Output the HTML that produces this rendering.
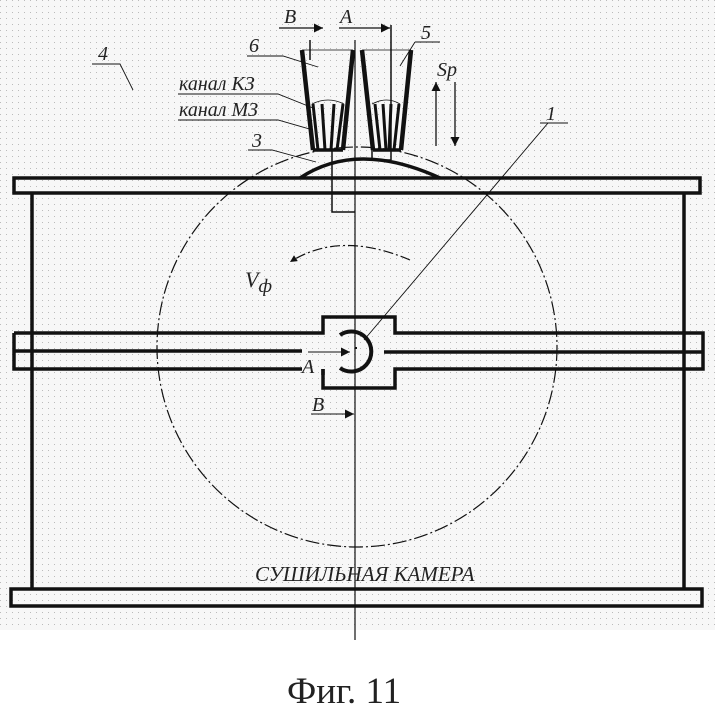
<!DOCTYPE html>
<html><head><meta charset="utf-8"><style>
html,body{margin:0;padding:0;background:#fff;width:715px;height:711px;overflow:hidden}
svg{display:block}
text{font-family:"Liberation Serif",serif;font-style:italic;fill:#222}
</style></head><body>
<svg width="715" height="711" viewBox="0 0 715 711" xmlns="http://www.w3.org/2000/svg">
<defs>
<pattern id="dots" width="6" height="6" patternUnits="userSpaceOnUse"><rect width="1" height="1" fill="#bbb"/></pattern>
<marker id="ar" viewBox="0 0 10 10" refX="10" refY="5" markerWidth="10" markerHeight="7" orient="auto" markerUnits="userSpaceOnUse"><path d="M0,0L10,5L0,10z" fill="#111"/></marker>
<marker id="ar2" viewBox="0 0 10 10" refX="10" refY="5" markerWidth="16" markerHeight="9" orient="auto" markerUnits="userSpaceOnUse"><path d="M0,0L10,5L0,10z" fill="#111"/></marker>
</defs>
<rect x="0" y="0" width="715" height="630" fill="#f7f7f7"/>
<rect x="0" y="0" width="715" height="630" fill="url(#dots)"/>
<g stroke="#111" fill="none">
<circle cx="357" cy="347" r="200" stroke-width="1.2" stroke-dasharray="14,3,2,3"/>
<line x1="32" y1="193" x2="32" y2="590" stroke-width="3.5"/>
<line x1="684" y1="193" x2="684" y2="590" stroke-width="3.5"/>
<rect x="14" y="178" width="686" height="15" stroke-width="3.5"/>
<rect x="11" y="589" width="691" height="17" stroke-width="3.5"/>
<path d="M14,333 H323 V317 H395 V333 H703 V369 H395 V388 H323 V369" stroke-width="3.5"/>
<path d="M14,333 V369 H302" stroke-width="3.5"/>
<line x1="14" y1="351" x2="302" y2="351" stroke-width="3.5"/>
<line x1="384" y1="352" x2="703" y2="352" stroke-width="3.5"/>
<line x1="323" y1="369" x2="323" y2="375" stroke-width="3.5"/>
<path d="M340,335 A20,20 0 1 1 340,368" stroke-width="4"/>
<path d="M300,178 Q357,140 440,178" stroke-width="3.5"/>
<line x1="355" y1="40" x2="355" y2="640" stroke-width="1.2"/>
<line x1="310" y1="40" x2="310" y2="60" stroke-width="1.5"/>
<line x1="391" y1="25" x2="391" y2="160" stroke-width="1.5"/>
<path d="M332,150 V212 H355" stroke-width="1.5"/>
<path d="M372,150 V160 H391" stroke-width="1.5"/>
<line x1="279" y1="28" x2="323" y2="28" stroke-width="1.2" marker-end="url(#ar2)"/>
<line x1="339" y1="28" x2="390" y2="28" stroke-width="1.2" marker-end="url(#ar2)"/>
<path d="M302,50 L313,150 M353,50 L343,150" stroke-width="4.5"/>
<path d="M362,50 L373,150 M411,50 L401,150" stroke-width="4.5"/>
<line x1="302" y1="50" x2="353" y2="50" stroke-width="0.8"/>
<line x1="362" y1="50" x2="411" y2="50" stroke-width="0.8"/>
<line x1="313" y1="150" x2="343" y2="150" stroke-width="3.5"/>
<line x1="373" y1="150" x2="401" y2="150" stroke-width="3.5"/>
<path d="M313,104 L318,150 M343,104 L337,150 M322,104 L325,150 M334,104 L331,150" stroke-width="3"/>
<path d="M375,104 L380,150 M399,104 L394,150 M383,104 L386,150 M391,104 L389,150" stroke-width="3"/>
<path d="M312,104 Q328,96 344,104 M372,104 Q387,96 400,104" stroke-width="0.8"/>
<line x1="436" y1="146" x2="436" y2="82" stroke-width="1.3" marker-end="url(#ar2)"/>
<line x1="455" y1="82" x2="455" y2="146" stroke-width="1.3" marker-end="url(#ar2)"/>
<path d="M247,56 H283 L318,67" stroke-width="0.9"/>
<path d="M415,42 H440 M415,42 L400,66" stroke-width="0.9"/>
<path d="M178,94 H278 L313,108" stroke-width="0.9"/>
<path d="M178,120 H278 L313,130" stroke-width="0.9"/>
<path d="M248,150 H272 L316,162" stroke-width="0.9"/>
<path d="M92,64 H120 L133,90" stroke-width="0.9"/>
<path d="M540,123 H568 M548,123 L364,340" stroke-width="0.9"/>
<path d="M410,260 Q340,230 290,262" stroke-width="1.2" stroke-dasharray="10,3,2,3" marker-end="url(#ar)"/>
<line x1="308" y1="352" x2="350" y2="352" stroke-width="1" marker-end="url(#ar2)"/>
<line x1="311" y1="414" x2="354" y2="414" stroke-width="1" marker-end="url(#ar2)"/>
</g>
<rect x="355" y="347" width="2" height="2" fill="#111"/>
<g font-size="20">
<text x="284" y="23">B</text>
<text x="340" y="23">A</text>
<text x="421" y="39">5</text>
<text x="249" y="52">6</text>
<text x="437" y="76">Sp</text>
<text x="179" y="90">канал КЗ</text>
<text x="179" y="116">канал МЗ</text>
<text x="252" y="147">3</text>
<text x="98" y="60">4</text>
<text x="546" y="120">1</text>
<text x="302" y="373">A</text>
<text x="312" y="411">B</text>
<text x="245" y="287" font-size="22">V<tspan font-size="19" dy="5">ф</tspan></text>
<text x="255" y="581" font-size="21">СУШИЛЬНАЯ КАМЕРА</text>
</g>
<text x="287" y="703" font-size="37" style="font-style:normal">Фиг. 11</text>
</svg>
</body></html>
